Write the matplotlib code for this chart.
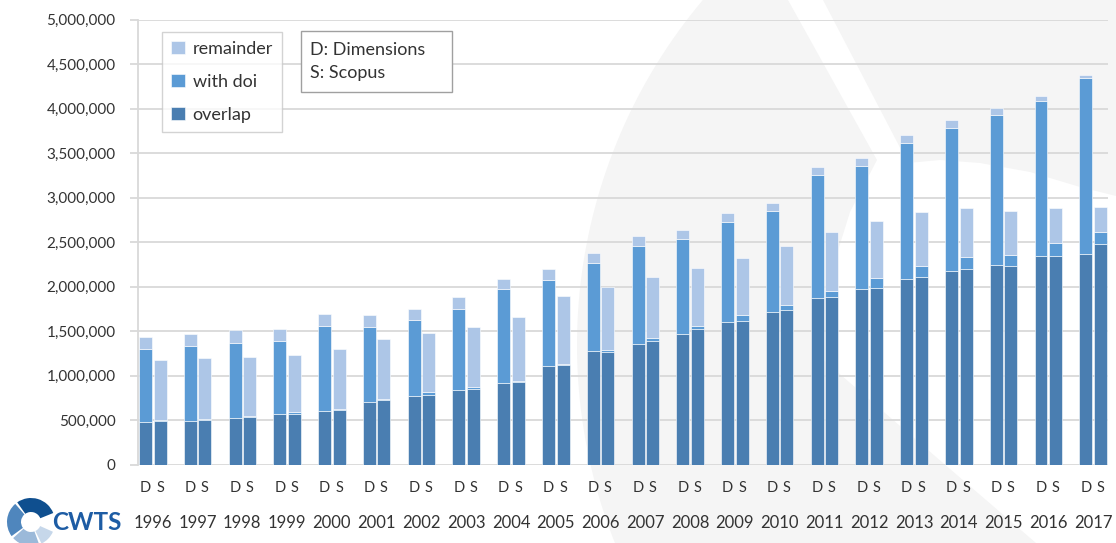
import matplotlib
matplotlib.use('Agg')
import matplotlib.pyplot as plt
import numpy as np
from matplotlib.patches import Wedge, Rectangle, Polygon
import matplotlib.transforms as mtransforms

# ---------------- data (values in thousands of publications) ----------------
years = ['1996', '1997', '1998', '1999', '2000', '2001', '2002', '2003', '2004', '2005', '2006',
         '2007', '2008', '2009', '2010', '2011', '2012', '2013', '2014', '2015', '2016', '2017']

# D: Dimensions
d_overlap = [483, 494, 528, 569, 599, 704, 771, 843, 921, 1112, 1272,
             1358, 1470, 1604, 1716, 1869, 1975, 2090, 2180, 2245, 2345, 2365]
d_with_doi = [813, 843, 843, 817, 959, 846, 858, 910, 1050, 965, 996,
              1101, 1064, 1125, 1130, 1390, 1381, 1529, 1608, 1685, 1739, 1978]
d_remainder = [142, 135, 138, 138, 131, 128, 116, 132, 120, 119, 116,
               116, 105, 98, 90, 90, 90, 90, 86, 83, 64, 34]

# S: Scopus
s_overlap = [494, 502, 539, 573, 610, 727, 786, 854, 932, 1115, 1265,
             1388, 1522, 1616, 1735, 1879, 1990, 2110, 2198, 2236, 2345, 2485]
s_with_doi = [8, 7, 11, 19, 12, 11, 27, 22, 12, 20, 26,
              33, 38, 63, 63, 71, 105, 128, 132, 119, 144, 132]
s_remainder = [674, 693, 660, 640, 678, 670, 663, 674, 719, 761, 702,
               693, 645, 639, 657, 659, 638, 604, 557, 491, 398, 277]

series_names = ['overlap', 'with doi', 'remainder']
series_colors = ['#4a7eb1', '#5b9bd5', '#adc6e7']
y_ticks = [0, 500000, 1000000, 1500000, 2000000, 2500000, 3000000, 3500000, 4000000, 4500000, 5000000]
note_text = 'D: Dimensions\nS: Scopus'

FONT = ['Lato', 'DejaVu Sans']
plt.rcParams['font.family'] = FONT

W, H = 1116, 543
fig = plt.figure(figsize=(W / 100, H / 100), dpi=100)
fig.patch.set_facecolor('white')

# ---------------- background layer: watermark + logo ----------------
bg = fig.add_axes([0, 0, 1, 1])
bg.set_xlim(0, W)
bg.set_ylim(H, 0)   # image-like coordinates (y down)
bg.axis('off')
bg.set_zorder(0)

wm = '#f5f5f5'
# smooth outer arc of the left watermark piece
acx, acy, ar = 1113.0, 345.0, 536.0
a_start = np.arctan2(0 - acy, 703 - acx)
a_end = np.arctan2(543 - acy, 615 - acx) - 2 * np.pi
angs = np.linspace(a_start, a_end, 60)
outer = [(acx + ar * np.cos(a), acy + ar * np.sin(a)) for a in angs]
inner = [(877, 160), (850, 212), (832, 270), (822, 325), (820, 357), (1036, 543)]
left_piece = [(788, 0)] + inner + outer[::-1]
top_piece = [(823, 0), (1116, 0), (1116, 196), (1080, 187), (1030, 172), (980, 163),
             (940, 160), (908, 163)]
bg.add_patch(Polygon(left_piece, closed=True, facecolor=wm, edgecolor='none'))
bg.add_patch(Polygon(top_piece, closed=True, facecolor=wm, edgecolor='none'))

# CWTS logo
lx, ly = 31, 522
logo_parts = [(22, 125, '#0f4f8f'), (131, 216, '#4f86bd'), (222, 290, '#9bb9d9'), (296, 336, '#c6d7ea')]
for a1, a2, c in logo_parts:
    bg.add_patch(Wedge((lx, ly), 24, -a2, -a1, width=14, facecolor=c, edgecolor='none'))
bg.text(52, 523, 'CWTS', fontsize=17.5, fontweight='bold', color='#1d5ca4',
        ha='left', va='center', family=FONT)

# ---------------- main chart ----------------
x0, x1 = 137.7, 1108.3
ybot, ytop = 464.7, 19.7
ax = fig.add_axes([x0 / W, (H - ybot) / H, (x1 - x0) / W, (ybot - ytop) / H])
ax.set_zorder(1)
ax.patch.set_alpha(0)

n = len(years)
x = np.arange(n)
bw = 0.29
off = 0.163
ax.set_xlim(-0.337, 21.34)
ax.set_ylim(0, 5000000)

def stack(xpos, parts):
    bottom = np.zeros(n)
    handles = []
    for vals, col, name in zip(parts, series_colors, series_names):
        v = np.array(vals, dtype=float) * 1000
        h = ax.bar(xpos, v, bw, bottom=bottom, color=col, edgecolor='white',
                   linewidth=0.4, label=name, zorder=3)
        handles.append(h)
        bottom = bottom + v
    return handles

hd = stack(x - off, [d_overlap, d_with_doi, d_remainder])
stack(x + off, [s_overlap, s_with_doi, s_remainder])

# axes styling
ax.set_yticks(y_ticks)
ax.set_yticklabels([f'{v:,}' for v in y_ticks], fontsize=11, color='#333333')
ax.yaxis.grid(True, color='#d9d9d9', linewidth=1.3, zorder=1)
ax.set_axisbelow(True)
for s in ['top', 'right', 'bottom']:
    ax.spines[s].set_visible(False)
ax.spines['left'].set_color('#d9d9d9')
ax.spines['left'].set_linewidth(1.3)
ax.tick_params(axis='y', length=6, width=1.3, color='#d9d9d9', pad=10)
ax.set_xticks([])

trans = mtransforms.blended_transform_factory(ax.transData, ax.transAxes)
for i, yr in enumerate(years):
    ax.text(i - off, -0.052, 'D', transform=trans, ha='center', va='center',
            fontsize=10.5, color='#333333')
    ax.text(i + off, -0.052, 'S', transform=trans, ha='center', va='center',
            fontsize=10.5, color='#333333')
    ax.text(i, -0.131, yr, transform=trans, ha='center', va='center',
            fontsize=12, color='#333333')

# legend (reverse order: remainder, with doi, overlap)
hl = [hd[2], hd[1], hd[0]]
leg = ax.legend(hl, ['remainder', 'with doi', 'overlap'],
                loc='upper left', bbox_to_anchor=((162 - x0) / (x1 - x0), (ybot - 32) / (ybot - ytop)),
                fontsize=13, frameon=True, fancybox=False, handlelength=0.75, handleheight=0.75,
                handletextpad=0.45, labelspacing=0.93, borderpad=0.5, borderaxespad=0)
leg.get_frame().set_edgecolor('#c8c8c8')
leg.get_frame().set_linewidth(1.0)
leg.get_frame().set_facecolor('white')
for t in leg.get_texts():
    t.set_color('#333333')

# note box
bx0, by0, bx1, by1 = 301, 31, 452, 92
fig.add_artist(Rectangle((bx0 / W, (H - by1) / H), (bx1 - bx0) / W, (by1 - by0) / H,
                         transform=fig.transFigure, facecolor='white', edgecolor='#a0a0a0',
                         linewidth=1.0, zorder=5))
fig.text(310 / W, (H - 61.5) / H, note_text, fontsize=13, color='#333333', ha='left', va='center',
         linespacing=1.6, zorder=6)

fig.savefig('out.png', dpi=100, facecolor='white')
